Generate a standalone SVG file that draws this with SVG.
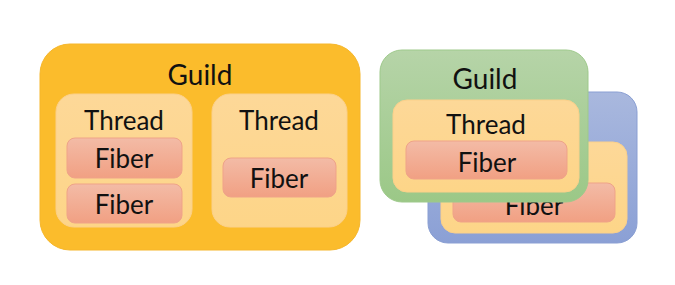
<svg xmlns="http://www.w3.org/2000/svg" width="675" height="285" viewBox="0 0 675 285">
<defs>
<linearGradient id="gFiber" x1="0" y1="0" x2="0" y2="1"><stop offset="0" stop-color="#F3BBA6"/><stop offset="1" stop-color="#F1A083"/></linearGradient>
<linearGradient id="gThread" x1="0" y1="0" x2="0" y2="1"><stop offset="0" stop-color="#FDD898"/><stop offset="1" stop-color="#FDD588"/></linearGradient>
<linearGradient id="gGreen" x1="0" y1="0" x2="0" y2="1"><stop offset="0" stop-color="#B6D4A8"/><stop offset="1" stop-color="#9BC887"/></linearGradient>
<linearGradient id="gBlue" x1="0" y1="0" x2="0" y2="1"><stop offset="0" stop-color="#A9B8DE"/><stop offset="1" stop-color="#8BA0D5"/></linearGradient>
</defs>
<style>
text{font-family:Lato,"Liberation Sans",sans-serif;fill:#111;text-anchor:middle}
.g{font-size:28px}
.t{font-size:26px}
.f{font-size:26px}
.guild{fill:#FBBC2C;stroke:#F6B62A;stroke-width:1}
.thread{fill:url(#gThread);stroke:#FBD08A;stroke-width:1}
.fiber{fill:url(#gFiber);stroke:#EFA388;stroke-width:1}
.green{fill:url(#gGreen);stroke:#9EC98B;stroke-width:1}
.blue{fill:url(#gBlue);stroke:#8A9FD3;stroke-width:1}
</style>
<g id="guild1">
<rect class="guild" x="40" y="44" width="320" height="206" rx="30"/>
<text class="g" x="200" y="85">Guild</text>
</g>
<g id="thread1">
<rect class="thread" x="56" y="94" width="136" height="133" rx="18"/>
<text class="t" x="124" y="130">Thread</text>
</g>
<g id="fiber1a">
<rect class="fiber" x="67" y="138" width="115" height="40" rx="8"/>
<text class="f" x="124" y="168">Fiber</text>
</g>
<g id="fiber1b">
<rect class="fiber" x="67" y="184" width="115" height="39" rx="8"/>
<text class="f" x="124" y="214">Fiber</text>
</g>
<g id="thread2">
<rect class="thread" x="212" y="94" width="135" height="133" rx="18"/>
<text class="t" x="279" y="130">Thread</text>
</g>
<g id="fiber2">
<rect class="fiber" x="223" y="158" width="113" height="39" rx="8"/>
<text class="f" x="279" y="188">Fiber</text>
</g>
<g id="guildBack">
<rect class="blue" x="428" y="92" width="209" height="151" rx="20"/>
</g>
<g id="threadBack">
<rect class="thread" x="441" y="142" width="186" height="91" rx="14"/>
</g>
<g id="fiberBack">
<rect class="fiber" x="453" y="183" width="162" height="39" rx="8"/>
<text class="f" x="534" y="215">Fiber</text>
</g>
<g id="guildFront">
<rect class="green" x="380" y="50" width="208" height="152" rx="22"/>
<text class="g" x="485" y="89">Guild</text>
</g>
<g id="threadFront">
<rect class="thread" x="393" y="100" width="186" height="92" rx="14"/>
<text class="t" x="486" y="134">Thread</text>
</g>
<g id="fiberFront">
<rect class="fiber" x="406" y="141" width="161" height="38" rx="8"/>
<text class="f" x="487" y="172">Fiber</text>
</g>
<g id="connectors"/>
</svg>
